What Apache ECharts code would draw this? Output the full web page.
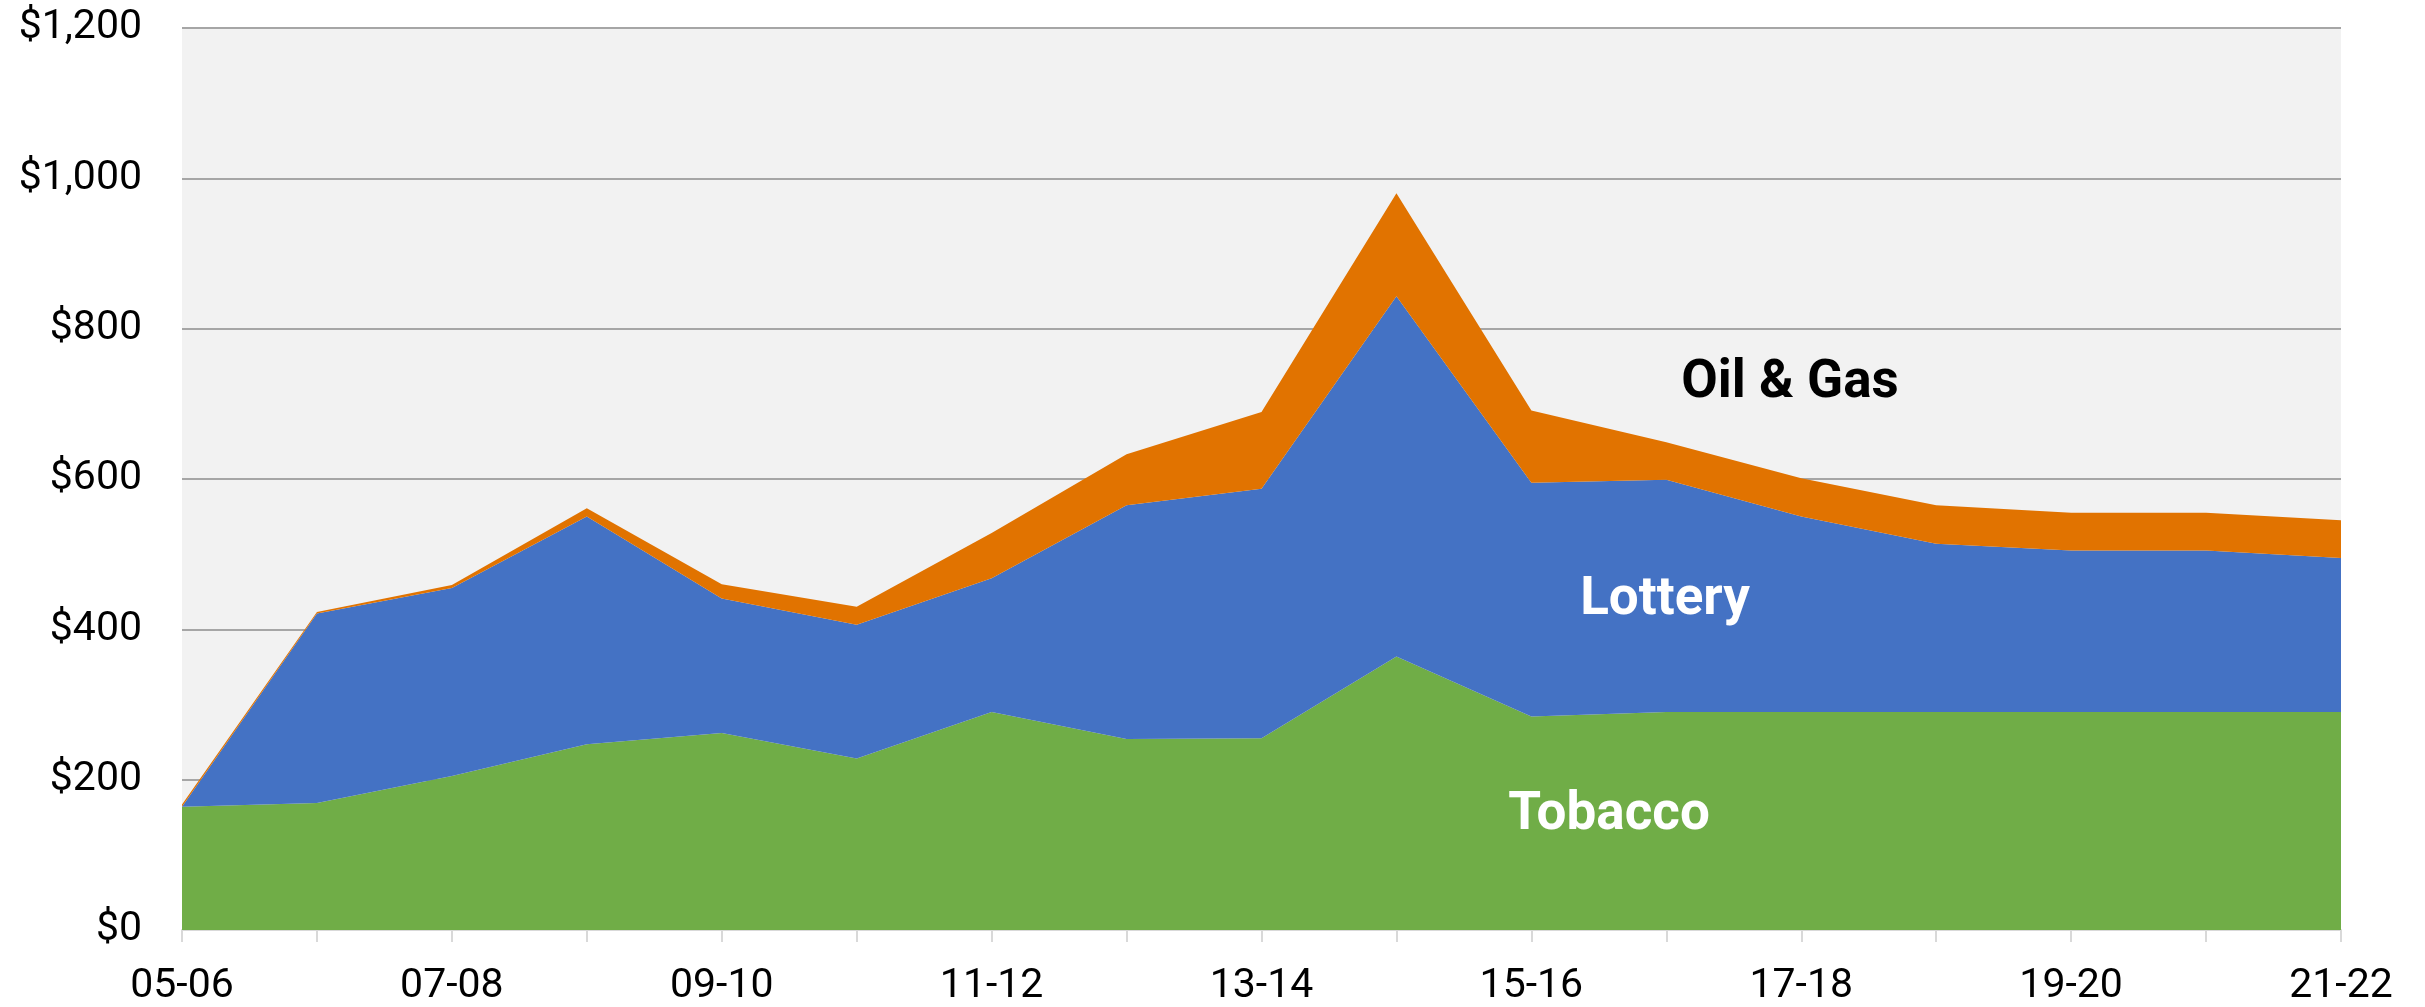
<!DOCTYPE html>
<html>
<head>
    <meta charset="utf-8">
    <title>Revenue by source</title>
    <script src="https://cdn.jsdelivr.net/npm/echarts@6.0.0/dist/echarts.min.js"></script>
    <style>
        html, body { margin: 0; padding: 0; background: #fff; }
        #main { width: 2425px; height: 1007px; }
    </style>
</head>
<body>
<div id="main"></div>
<script type="text/javascript">
    // fiscal years on the x axis
    var years = ['05-06', '06-07', '07-08', '08-09', '09-10', '10-11', '11-12', '12-13', '13-14',
        '14-15', '15-16', '16-17', '17-18', '18-19', '19-20', '20-21', '21-22'];

    // stacked values
    var tobacco = [164, 169, 205, 247, 262, 228, 290, 254, 255, 364, 284, 290, 290, 290, 290, 290, 290];
    var lottery = [0, 252, 250, 303, 179, 178, 178, 311, 332, 479, 311, 309, 260, 224, 215, 215, 205];
    var oilGas = [3, 2, 4, 11, 19, 24, 60, 68, 102, 137, 96, 50, 51, 51, 50, 50, 50];

    var yTicks = [0, 200, 400, 600, 800, 1000, 1200];

    var myChart = echarts.init(document.getElementById('main'), null, { renderer: 'canvas' });

    function areaSeries(name, data, color) {
        return {
            name: name,
            type: 'line',
            stack: 'total',
            data: data,
            symbol: 'none',
            lineStyle: { width: 0 },
            areaStyle: { color: color, opacity: 1 },
            itemStyle: { color: color },
            silent: true
        };
    }

    // in-chart labels for the three bands
    function bandLabel(text, x, y, color) {
        return {
            type: 'text', x: x, y: y, z: 100,
            style: { text: text, fill: color, font: 'bold 53px Roboto', align: 'center', verticalAlign: 'middle' }
        };
    }

    var option = {
        animation: false,
        textStyle: { fontFamily: 'Roboto' },
        grid: {
            left: 182, right: 84, top: 28, bottom: 76,
            show: true, backgroundColor: '#F2F2F2', borderWidth: 0
        },
        xAxis: {
            type: 'category',
            data: years,
            boundaryGap: false,
            axisLine: { lineStyle: { color: '#D9D9D9', width: 2 } },
            axisTick: { interval: 0, length: 12, lineStyle: { color: '#D9D9D9', width: 2 } },
            axisLabel: { interval: 1, color: '#000', fontSize: 41, margin: 36, fontFamily: 'Roboto' },
            splitLine: { show: false }
        },
        yAxis: {
            type: 'value',
            min: yTicks[0],
            max: yTicks[yTicks.length - 1],
            interval: 200,
            axisLine: { show: false },
            axisTick: { show: false },
            axisLabel: {
                color: '#000', fontSize: 41, margin: 40, fontFamily: 'Roboto',
                formatter: function (v) { return '$' + v.toLocaleString('en-US'); }
            },
            splitLine: { lineStyle: { color: '#A6A6A6', width: 2 } }
        },
        series: [
            areaSeries('Tobacco', tobacco, '#70AD47'),
            areaSeries('Lottery', lottery, '#4472C4'),
            areaSeries('Oil & Gas', oilGas, '#E17300')
        ],
        graphic: [
            bandLabel('Oil & Gas', 1790, 384, '#000'),
            bandLabel('Lottery', 1665, 601, '#fff'),
            bandLabel('Tobacco', 1609, 816, '#fff')
        ]
    };

    myChart.setOption(option);
    window.addEventListener('resize', myChart.resize);
</script>
</body>
</html>
